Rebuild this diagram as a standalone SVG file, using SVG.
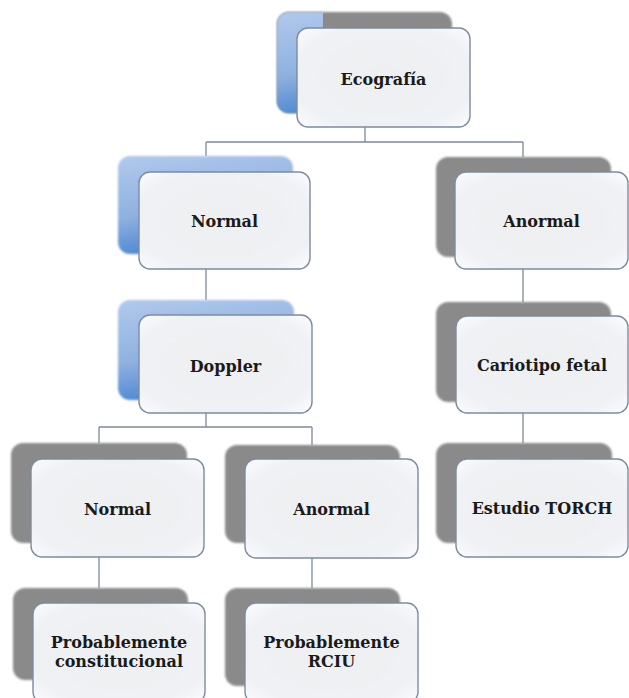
<svg xmlns="http://www.w3.org/2000/svg" width="629" height="698" viewBox="0 0 629 698">
<defs>
<style>
.conn{stroke:#7d8a98;stroke-width:1.3;fill:none}
.grey{fill:#8a8a8a;filter:url(#soft)}
.blue{fill:url(#bl);filter:url(#soft)}
.front{fill:url(#fr);stroke:#7e8c9d;stroke-width:1.4}
.t{font-family:"DejaVu Serif","Liberation Serif",serif;font-weight:bold;font-size:16px;fill:#1a1a1a;text-anchor:middle}
</style>
<linearGradient id="bl" x1="0" y1="0" x2="0.25" y2="1">
<stop offset="0" stop-color="#b1c9ec"/>
<stop offset="0.6" stop-color="#8fb1e0"/>
<stop offset="1" stop-color="#4c87d1"/>
</linearGradient>
<radialGradient id="fr" cx="0.5" cy="0.5" r="0.7">
<stop offset="0" stop-color="#eeeff1"/>
<stop offset="0.75" stop-color="#f0f1f4"/>
<stop offset="1" stop-color="#fafcff"/>
</radialGradient>
<filter id="soft" x="-5%" y="-5%" width="110%" height="110%"><feGaussianBlur stdDeviation="0.8"/></filter>
<clipPath id="ecoclip"><rect x="270" y="0" width="53" height="130"/></clipPath>
</defs>
<rect width="629" height="698" fill="#ffffff"/>
<g id="connectors">
<path class="conn" d="M365 127V142M206 142H523M206 142V156M523 142V157"/>
<path class="conn" d="M206 268V300"/>
<path class="conn" d="M523 268V302"/>
<path class="conn" d="M523 413V443"/>
<path class="conn" d="M206 413V427M99 427H312M99 427V443M312 427V445"/>
<path class="conn" d="M99 557V588"/>
<path class="conn" d="M312 558V588"/>
</g>
<g id="n-ecografia">
<rect class="grey" x="277" y="12" width="175" height="101" rx="12"/>
<rect class="blue" x="277" y="12" width="175" height="101" rx="12" clip-path="url(#ecoclip)"/>
<rect class="front" x="297" y="28" width="173" height="99" rx="11"/>
<text class="t" x="383.5" y="85">Ecografía</text>
</g>
<g id="n-normal1">
<rect class="blue" x="118" y="156" width="175" height="98" rx="12"/>
<rect class="front" x="139" y="172" width="171" height="97" rx="11"/>
<text class="t" x="224.5" y="227">Normal</text>
</g>
<g id="n-anormal1">
<rect class="grey" x="436" y="157" width="175" height="100" rx="12"/>
<rect class="front" x="455" y="172" width="173" height="97" rx="11"/>
<text class="t" x="541.5" y="227">Anormal</text>
</g>
<g id="n-doppler">
<rect class="blue" x="118" y="300" width="176" height="100" rx="12"/>
<rect class="front" x="139" y="315" width="173" height="98" rx="11"/>
<text class="t" x="225.5" y="372">Doppler</text>
</g>
<g id="n-cariotipo">
<rect class="grey" x="436" y="302" width="175" height="100" rx="12"/>
<rect class="front" x="456" y="316" width="172" height="97" rx="11"/>
<text class="t" x="542" y="371">Cariotipo fetal</text>
</g>
<g id="n-normal2">
<rect class="grey" x="11" y="443" width="176" height="100" rx="12"/>
<rect class="front" x="31" y="459" width="173" height="98" rx="11"/>
<text class="t" x="117.5" y="515">Normal</text>
</g>
<g id="n-anormal2">
<rect class="grey" x="225" y="445" width="175" height="98" rx="12"/>
<rect class="front" x="245" y="459" width="173" height="99" rx="11"/>
<text class="t" x="331.5" y="515">Anormal</text>
</g>
<g id="n-torch">
<rect class="grey" x="436" y="443" width="176" height="100" rx="12"/>
<rect class="front" x="456" y="459" width="172" height="98" rx="11"/>
<text class="t" x="542" y="514">Estudio TORCH</text>
</g>
<g id="n-constitucional">
<rect class="grey" x="13" y="588" width="175" height="92" rx="12"/>
<rect class="front" x="33" y="603" width="172" height="100" rx="11"/>
<text class="t" x="119" y="648">Probablemente</text>
<text class="t" x="119" y="667">constitucional</text>
</g>
<g id="n-rciu">
<rect class="grey" x="225" y="588" width="175" height="98" rx="12"/>
<rect class="front" x="245" y="603" width="173" height="100" rx="11"/>
<text class="t" x="331.5" y="648">Probablemente</text>
<text class="t" x="331.5" y="667">RCIU</text>
</g>
</svg>
